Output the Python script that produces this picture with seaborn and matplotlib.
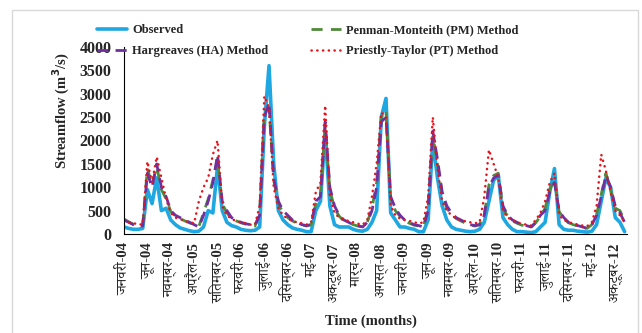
import numpy as np
import pandas as pd
import seaborn as sns
import matplotlib.pyplot as plt
from matplotlib.patches import Rectangle

observed = [150, 120, 100, 100, 120, 950, 650, 1200, 500, 550, 300, 200,
            130, 100, 70, 50, 60, 150, 500, 450, 1450, 500, 250, 180,
            150, 100, 80, 70, 80, 150, 2300, 3600, 1500, 500, 300, 200,
            130, 100, 80, 50, 50, 500, 700, 2200, 600, 200, 150, 150,
            150, 100, 70, 60, 100, 250, 500, 2500, 2900, 450, 300, 150,
            150, 120, 100, 50, 50, 300, 2000, 1200, 600, 300, 150, 100,
            80, 60, 50, 60, 100, 250, 700, 1150, 1250, 350, 200, 100,
            50, 50, 40, 30, 50, 150, 250, 900, 1400, 200, 100, 80,
            80, 60, 50, 40, 60, 200, 700, 1200, 1000, 350, 250, 50]
hargreaves = [300, 250, 200, 180, 170, 1300, 1000, 1500, 1000, 800, 500, 400,
              350, 300, 250, 200, 150, 400, 700, 1100, 1700, 700, 500, 350,
              300, 250, 220, 200, 180, 400, 2500, 2800, 1200, 700, 500, 400,
              300, 250, 200, 180, 200, 700, 800, 2400, 1000, 600, 400, 300,
              250, 200, 180, 150, 250, 500, 1000, 2400, 2500, 800, 550, 400,
              300, 250, 200, 180, 150, 500, 2200, 1600, 900, 600, 450, 350,
              300, 250, 200, 180, 200, 400, 1000, 1200, 1250, 600, 400, 300,
              250, 200, 180, 150, 250, 400, 500, 900, 1100, 500, 350, 250,
              200, 180, 150, 120, 200, 400, 800, 1250, 1000, 600, 450, 250]
penman = [320, 260, 210, 190, 180, 1400, 1050, 1450, 950, 750, 480, 380,
          330, 280, 240, 200, 160, 450, 750, 1150, 1600, 650, 450, 330,
          280, 240, 210, 190, 170, 450, 2600, 2700, 1150, 650, 450, 350,
          280, 230, 200, 170, 200, 650, 850, 2300, 950, 550, 380, 280,
          240, 200, 170, 150, 250, 550, 1100, 2500, 2650, 750, 500, 380,
          280, 230, 190, 170, 150, 550, 2100, 1500, 850, 550, 420, 330,
          280, 230, 190, 170, 200, 420, 1050, 1250, 1300, 550, 380, 280,
          230, 190, 170, 140, 240, 380, 550, 950, 1150, 480, 330, 240,
          200, 170, 140, 120, 200, 420, 850, 1300, 950, 550, 500, 280]
priestley = [300, 260, 230, 210, 200, 1550, 1100, 1650, 1200, 750, 450, 350,
             320, 280, 250, 230, 700, 1000, 1200, 1700, 2000, 600, 400, 320,
             280, 250, 230, 200, 200, 600, 2950, 2700, 1000, 550, 400, 330,
             280, 250, 230, 200, 250, 900, 1100, 2750, 800, 450, 350, 300,
             280, 250, 220, 200, 300, 800, 1500, 2600, 2500, 600, 400, 330,
             300, 280, 250, 230, 250, 800, 2500, 1400, 700, 500, 400, 330,
             300, 270, 250, 230, 250, 800, 1800, 1500, 1200, 500, 350, 300,
             250, 220, 200, 180, 300, 450, 700, 1100, 1300, 400, 300, 250,
             230, 200, 180, 170, 250, 600, 1700, 1350, 900, 500, 400, 250]

tick_labels = ["जनवरी-04", "जून-04", "नवम्बर-04", "अप्रैल-05", "सितम्बर-05",
               "फरवरी-06", "जुलाई-06", "दिसम्बर-06", "मई-07", "अक्टूबर-07",
               "मार्च-08", "अगस्त-08", "जनवरी-09", "जून-09", "नवम्बर-09",
               "अप्रैल-10", "सितम्बर-10", "फरवरी-11", "जुलाई-11", "दिसम्बर-11",
               "मई-12", "अक्टूबर-12"]

months = np.arange(len(observed))
df = pd.DataFrame({"month": months, "Observed": observed,
                   "Hargreaves (HA) Method": hargreaves,
                   "Penman-Monteith (PM) Method": penman,
                   "Priestly-Taylor (PT) Method": priestley})

sns.set_style("white")
plt.rcParams['font.family'] = ['Liberation Serif', 'Noto Serif Devanagari', 'DejaVu Sans']
plt.rcParams['font.weight'] = 'bold'

fig = plt.figure(figsize=(6.42, 3.33), dpi=100)
ax = fig.add_axes([0.1931, 0.2973, 0.7835, 0.5616])

sns.lineplot(data=df, x="month", y="Observed", ax=ax, color="#1ea7e1",
             linewidth=2.6, label="Observed")
sns.lineplot(data=df, x="month", y="Penman-Monteith (PM) Method", ax=ax,
             color="#4f8a3a", linewidth=2.0, linestyle=(0, (4, 3)),
             label="Penman-Monteith (PM) Method")
sns.lineplot(data=df, x="month", y="Hargreaves (HA) Method", ax=ax,
             color="#7030a0", linewidth=2.0, linestyle=(0, (4, 2.5)),
             label="Hargreaves (HA) Method")
sns.lineplot(data=df, x="month", y="Priestly-Taylor (PT) Method", ax=ax,
             color="#e8141c", linewidth=1.8, linestyle=(0, (0.1, 2.2)),
             dash_capstyle="round", label="Priestly-Taylor (PT) Method")

ax.set_xlim(0, 107.5)
ax.set_ylim(0, 4000)
ax.set_yticks(range(0, 4001, 500))
ax.set_xticks(range(0, 106, 5))
ax.set_xticklabels(tick_labels, rotation=90, fontsize=10.5)
ax.tick_params(axis='both', direction='out', length=4, width=0.8,
               color='black', pad=2)
ax.tick_params(axis='y', labelsize=11.5, pad=5)
for side in ['top', 'right']:
    ax.spines[side].set_visible(False)
for side in ['left', 'bottom']:
    ax.spines[side].set_color('black')
    ax.spines[side].set_linewidth(0.8)

ax.set_xlabel("Time (months)", fontsize=10.5, fontweight='bold')
ax.set_ylabel("Streamflow (m$^\\mathbf{3}$/s)", fontsize=10.5, fontweight='bold')
ax.yaxis.set_label_coords(-0.103, 0.66)
ax.xaxis.set_label_coords(0.49, -0.43)

h, l = ax.get_legend_handles_labels()
order = [0, 2, 1, 3]
ax.legend([h[i] for i in order], [l[i] for i in order], ncol=2,
          frameon=False, loc='upper left', bbox_to_anchor=(-0.075, 1.183),
          fontsize=9, handlelength=2.4, columnspacing=3.4,
          labelspacing=0.75, handletextpad=0.4)

fig.patches.append(Rectangle((0.019, -0.01), 0.975, 0.98,
                             transform=fig.transFigure, fill=False,
                             edgecolor='#d9d9d9', linewidth=1))

fig.savefig("out.png", dpi=100)
